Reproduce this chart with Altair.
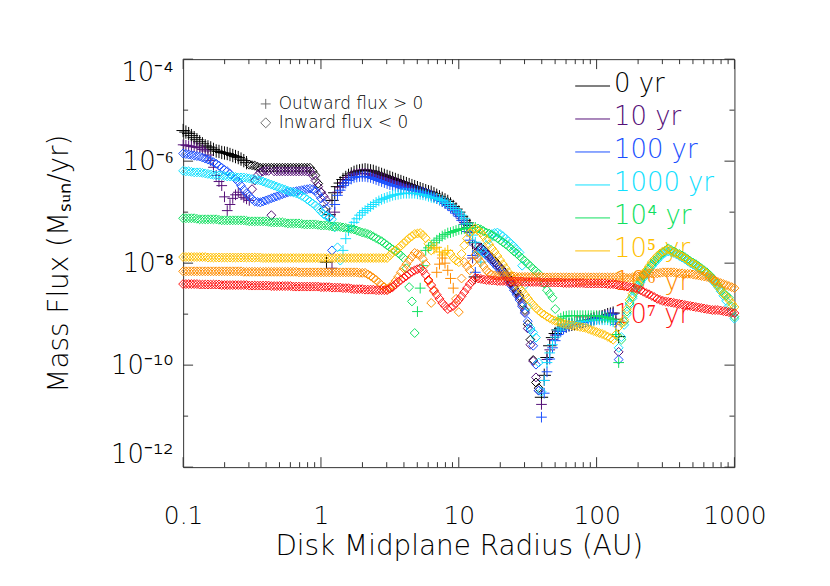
import altair as alt
import pandas as pd

# ---------------- data ----------------
# log10 of disk midplane radius (AU) on the model grid
LOG_R = [-1.00, -0.98, -0.96, -0.94, -0.92, -0.90, -0.88, -0.86, -0.84, -0.82,
         -0.80, -0.78, -0.76, -0.74, -0.72, -0.70, -0.68, -0.66, -0.64, -0.62,
         -0.60, -0.58, -0.56, -0.54, -0.52, -0.50, -0.48, -0.46, -0.44, -0.42,
         -0.40, -0.38, -0.36, -0.34, -0.32, -0.30, -0.28, -0.26, -0.24, -0.22,
         -0.20, -0.18, -0.16, -0.14, -0.12, -0.10, -0.08, -0.06, -0.04, -0.02,
         0.00, 0.02, 0.04, 0.06, 0.08, 0.10, 0.12, 0.14, 0.16, 0.18,
         0.20, 0.22, 0.24, 0.26, 0.28, 0.30, 0.32, 0.34, 0.36, 0.38,
         0.40, 0.42, 0.44, 0.46, 0.48, 0.50, 0.52, 0.54, 0.56, 0.58,
         0.60, 0.62, 0.64, 0.66, 0.68, 0.70, 0.72, 0.74, 0.76, 0.78,
         0.80, 0.82, 0.84, 0.86, 0.88, 0.90, 0.92, 0.94, 0.96, 0.98,
         1.00, 1.02, 1.04, 1.06, 1.08, 1.10, 1.12, 1.14, 1.16, 1.18,
         1.20, 1.22, 1.24, 1.26, 1.28, 1.30, 1.32, 1.34, 1.36, 1.38,
         1.40, 1.42, 1.44, 1.46, 1.48, 1.50, 1.52, 1.54, 1.56, 1.58,
         1.60, 1.62, 1.64, 1.66, 1.68, 1.70, 1.72, 1.74, 1.76, 1.78,
         1.80, 1.82, 1.84, 1.86, 1.88, 1.90, 1.92, 1.94, 1.96, 1.98,
         2.00, 2.02, 2.04, 2.06, 2.08, 2.10, 2.12, 2.14, 2.16, 2.18,
         2.20, 2.22, 2.24, 2.26, 2.28, 2.30, 2.32, 2.34, 2.36, 2.38,
         2.40, 2.42, 2.44, 2.46, 2.48, 2.50, 2.52, 2.54, 2.56, 2.58,
         2.60, 2.62, 2.64, 2.66, 2.68, 2.70, 2.72, 2.74, 2.76, 2.78,
         2.80, 2.82, 2.84, 2.86, 2.88, 2.90, 2.92, 2.94, 2.96, 2.98,
         3.00]

LABELS = ["0 yr", "10 yr", "100 yr", "1000 yr", "10\u2074 yr", "10\u2075 yr", "10\u2076 yr", "10\u2077 yr"]

# log10 |mass flux| (Msun/yr) per snapshot; sign strings: '+' outward (>0), '-' inward (<0)
LOGF_0YR = [
    -5.40, -5.43, -5.46, -5.50, -5.54, -5.58, -5.62, -5.66, -5.70, -5.72,
    -5.74, -5.77, -5.80, -5.81, -5.83, -5.84, -5.85, -5.87, -5.89, -5.91,
    -5.93, -5.96, -5.99, -6.03, -6.07, -6.08, -6.09, -6.11, -6.13, -6.13,
    -6.13, -6.13, -6.13, -6.13, -6.13, -6.13, -6.13, -6.13, -6.13, -6.13,
    -6.13, -6.13, -6.13, -6.13, -6.13, -6.13, -6.13, -6.20, -6.28, -6.44,
    -6.61, -6.95, -7.98, -7.05, -6.77, -6.62, -6.50, -6.43, -6.36, -6.32,
    -6.28, -6.25, -6.22, -6.20, -6.19, -6.18, -6.17, -6.18, -6.19, -6.20,
    -6.22, -6.24, -6.26, -6.28, -6.30, -6.32, -6.34, -6.36, -6.38, -6.40,
    -6.42, -6.44, -6.46, -6.48, -6.50, -6.52, -6.54, -6.56, -6.58, -6.60,
    -6.61, -6.64, -6.67, -6.70, -6.73, -6.76, -6.79, -6.84, -6.89, -6.94,
    -7.00, -7.08, -7.16, -7.21, -7.26, -7.60, -8.27, -7.75, -7.69, -7.74,
    -7.79, -7.84, -7.90, -7.96, -8.02, -8.08, -8.14, -8.21, -8.29, -8.38,
    -8.47, -8.55, -8.64, -8.78, -8.92, -9.20, -9.50, -9.90, -10.34, -10.45,
    -10.63, -10.20, -9.85, -9.62, -9.46, -9.38, -9.31, -9.28, -9.25, -9.23,
    -9.21, -9.20, -9.19, -9.17, -9.15, -9.14, -9.13, -9.12, -9.11, -9.09,
    -9.07, -9.06, -9.05, -9.03, -9.01, -9.00, -8.98, -9.10, -9.44]
SIGN_0YR = ("++++++++++ ++++++++++ ++++------ ---------- ---------- --++++++++ "
            "++++++++++ ++++++++++ ++++++++++ ++++++++++ +++++++--- ---------- "
            "---------- ++++++++++ ++++++++++ +++++++++")

LOGF_10YR = [
    -5.68, -5.69, -5.70, -5.71, -5.72, -5.73, -5.74, -5.77, -5.80, -5.88,
    -5.99, -6.12, -6.28, -6.40, -6.48, -6.70, -6.97, -6.85, -6.73, -6.66,
    -6.61, -6.66, -6.71, -6.74, -6.77, -6.55, -6.38, -6.28, -6.22, -6.20,
    -6.19, -6.19, -7.06, -6.20, -6.20, -6.20, -6.20, -6.20, -6.20, -6.20,
    -6.20, -6.20, -6.20, -6.20, -6.20, -6.20, -6.20, -6.28, -6.38, -6.50,
    -6.61, -6.69, -6.77, -7.10, -8.10, -7.00, -6.61, -6.51, -6.42, -6.37,
    -6.32, -6.29, -6.26, -6.25, -6.24, -6.24, -6.24, -6.25, -6.26, -6.28,
    -6.30, -6.31, -6.32, -6.34, -6.36, -6.38, -6.40, -6.42, -6.44, -6.46,
    -6.48, -6.50, -6.52, -6.54, -6.56, -6.58, -6.60, -6.61, -6.63, -6.65,
    -6.67, -6.70, -6.73, -6.76, -6.79, -6.82, -6.85, -6.89, -6.93, -6.98,
    -7.04, -7.12, -7.20, -7.30, -7.40, -7.90, -7.65, -7.68, -7.71, -7.75,
    -7.80, -7.86, -7.92, -7.98, -8.04, -8.10, -8.16, -8.23, -8.31, -8.40,
    -8.49, -8.58, -8.68, -8.82, -8.96, -9.28, -9.60, -9.92, -10.24, -10.50,
    -10.77, -10.30, -9.89, -9.70, -9.50, -9.41, -9.33, -9.29, -9.25, -9.23,
    -9.21, -9.20, -9.19, -9.17, -9.15, -9.14, -9.13, -9.12, -9.11, -9.09,
    -9.07, -9.06, -9.05, -9.03, -9.01, -9.00, -8.98, -9.15, -9.74]
SIGN_10YR = ("++++++++++ ++++++++++ +++++----- ---------- ---------- ----++++++ "
             "++++++++++ ++++++++++ ++++++++++ ++++++++++ ++++++---- ---------- "
             "---------- ++++++++++ ++++++++++ ++++++++-")

LOGF_100YR = [
    -5.85, -5.86, -5.87, -5.88, -5.89, -5.90, -5.91, -5.93, -5.95, -5.97,
    -5.99, -6.02, -6.05, -6.09, -6.13, -6.17, -6.20, -6.25, -6.30, -6.35,
    -6.40, -6.48, -6.56, -6.63, -6.69, -6.74, -6.79, -6.80, -6.81, -6.79,
    -6.77, -6.75, -6.73, -6.71, -6.69, -6.67, -6.65, -6.63, -6.61, -6.60,
    -6.60, -6.59, -6.58, -6.57, -6.56, -6.55, -6.54, -6.55, -6.58, -6.65,
    -6.73, -6.83, -6.93, -7.10, -7.75, -6.85, -6.67, -6.57, -6.48, -6.43,
    -6.38, -6.35, -6.32, -6.31, -6.30, -6.30, -6.30, -6.31, -6.32, -6.34,
    -6.36, -6.38, -6.40, -6.42, -6.44, -6.46, -6.48, -6.49, -6.50, -6.52,
    -6.54, -6.55, -6.56, -6.57, -6.58, -6.59, -6.60, -6.61, -6.63, -6.65,
    -6.67, -6.70, -6.73, -6.76, -6.79, -6.83, -6.87, -6.92, -6.97, -7.02,
    -7.08, -7.16, -7.24, -7.38, -7.55, -7.85, -8.18, -7.80, -7.75, -7.79,
    -7.84, -7.90, -7.96, -8.02, -8.08, -8.14, -8.20, -8.27, -8.35, -8.44,
    -8.53, -8.62, -8.72, -8.85, -8.98, -9.14, -9.31, -9.62, -9.99, -10.50,
    -11.02, -10.55, -10.13, -9.88, -9.66, -9.52, -9.40, -9.34, -9.29, -9.26,
    -9.23, -9.21, -9.19, -9.18, -9.17, -9.16, -9.15, -9.13, -9.11, -9.10,
    -9.09, -9.07, -9.05, -9.04, -9.03, -9.01, -9.00, -9.20, -9.89]
SIGN_100YR = ("---------- ---------- ---------- ---------- ---------- -----+++++ "
              "++++++++++ ++++++++++ ++++++++++ ++++++++++ +++++++--- ---------- "
              "---------- ++++++++++ ++++++++++ ++++++++-")

LOGF_1000YR = [
    -6.19, -6.20, -6.20, -6.21, -6.22, -6.22, -6.22, -6.23, -6.24, -6.25,
    -6.26, -6.27, -6.28, -6.28, -6.28, -6.29, -6.30, -6.30, -6.30, -6.31,
    -6.32, -6.32, -6.32, -6.33, -6.34, -6.35, -6.36, -6.37, -6.38, -6.40,
    -6.42, -6.44, -6.46, -6.48, -6.50, -6.52, -6.54, -6.56, -6.58, -6.60,
    -6.61, -6.63, -6.65, -6.68, -6.71, -6.75, -6.79, -6.83, -6.87, -6.93,
    -6.99, -7.04, -7.08, -7.11, -7.14, -7.30, -7.69, -7.95, -7.75, -7.52,
    -7.36, -7.28, -7.20, -7.13, -7.06, -7.01, -6.97, -6.93, -6.89, -6.85,
    -6.81, -6.78, -6.75, -6.73, -6.71, -6.69, -6.67, -6.66, -6.65, -6.64,
    -6.63, -6.63, -6.63, -6.63, -6.63, -6.64, -6.65, -6.66, -6.67, -6.69,
    -6.71, -6.72, -6.73, -6.75, -6.77, -6.80, -6.83, -6.87, -6.91, -6.95,
    -7.00, -7.06, -7.12, -7.22, -7.32, -7.45, -7.59, -7.78, -7.98, -7.80,
    -7.65, -7.53, -7.43, -7.41, -7.40, -7.43, -7.47, -7.52, -7.57, -7.62,
    -7.67, -7.73, -7.79, -8.05, -8.43, -8.85, -9.27, -9.36, -9.46, -9.95,
    -10.52, -10.30, -9.95, -9.76, -9.60, -9.45, -9.31, -9.27, -9.23, -9.21,
    -9.19, -9.18, -9.17, -9.16, -9.15, -9.14, -9.13, -9.13, -9.13, -9.12,
    -9.11, -9.11, -9.11, -9.11, -9.11, -9.13, -9.15, -9.40, -9.66, -9.45,
    -9.21, -9.00, -8.82, -8.69, -8.57, -8.47, -8.37, -8.29, -8.21, -8.13,
    -8.06, -8.00, -7.94, -7.88, -7.82, -7.79, -7.77, -7.78, -7.80, -7.83,
    -7.86, -7.89, -7.92, -7.96, -8.00, -8.03, -8.06, -8.10, -8.14, -8.17,
    -8.21, -8.27, -8.33, -8.40, -8.47, -8.55, -8.64, -8.74, -8.84, -8.96,
    -9.09]
SIGN_1000YR = ("---------- ---------- ---------- ---------- ---------- --------++ "
               "++++++++++ ++++++++++ ++++++++++ ++++++++++ +++++++++- ---------- "
               "---------- -+++++++++ ++++++++++ ++++++++-- ---------- ---------- "
               "---------- ---------- -")

LOGF_1E4YR = [
    -7.12, -7.12, -7.12, -7.12, -7.12, -7.13, -7.14, -7.14, -7.14, -7.14,
    -7.14, -7.14, -7.14, -7.15, -7.16, -7.16, -7.16, -7.16, -7.16, -7.16,
    -7.16, -7.16, -7.16, -7.17, -7.18, -7.18, -7.18, -7.18, -7.18, -7.18,
    -7.18, -7.19, -7.20, -7.20, -7.20, -7.20, -7.20, -7.21, -7.22, -7.22,
    -7.22, -7.22, -7.22, -7.23, -7.24, -7.24, -7.24, -7.24, -7.24, -7.25,
    -7.26, -7.26, -7.26, -7.27, -7.28, -7.28, -7.28, -7.29, -7.30, -7.31,
    -7.32, -7.33, -7.34, -7.36, -7.38, -7.40, -7.41, -7.43, -7.45, -7.48,
    -7.51, -7.54, -7.57, -7.61, -7.65, -7.69, -7.73, -7.76, -7.80, -7.85,
    -7.90, -8.10, -8.47, -8.75, -9.37, -8.95, -8.49, -8.05, -7.75, -7.70,
    -7.65, -7.60, -7.55, -7.51, -7.47, -7.44, -7.41, -7.40, -7.38, -7.36,
    -7.34, -7.33, -7.32, -7.31, -7.30, -7.30, -7.30, -7.32, -7.34, -7.37,
    -7.40, -7.42, -7.45, -7.48, -7.51, -7.55, -7.59, -7.63, -7.67, -7.72,
    -7.77, -7.81, -7.86, -7.91, -7.96, -8.01, -8.06, -8.11, -8.16, -8.21,
    -8.27, -8.40, -8.53, -8.60, -8.68, -8.90, -9.11, -9.08, -9.05, -9.04,
    -9.03, -9.03, -9.03, -9.03, -9.03, -9.03, -9.03, -9.03, -9.03, -9.03,
    -9.03, -9.04, -9.05, -9.06, -9.07, -9.09, -9.11, -9.40, -9.95, -9.50,
    -9.15, -8.95, -8.78, -8.65, -8.53, -8.43, -8.33, -8.25, -8.18, -8.10,
    -8.02, -7.96, -7.90, -7.84, -7.79, -7.75, -7.71, -7.74, -7.77, -7.80,
    -7.82, -7.85, -7.88, -7.92, -7.96, -7.99, -8.02, -8.06, -8.10, -8.14,
    -8.18, -8.23, -8.29, -8.36, -8.43, -8.51, -8.59, -8.63, -8.68, -8.85,
    -9.05]
SIGN_1E4YR = ("---------- ---------- ---------- ---------- ---------- ---------- "
              "---------- ---------- -----+++++ ++++++++++ +++++++--- ---------- "
              "---------- ------++++ ++++++++++ +++++++++- ---------- ---------- "
              "---------- ---------- -")

LOGF_1E5YR = [
    -7.88, -7.88, -7.88, -7.88, -7.88, -7.88, -7.88, -7.88, -7.88, -7.89,
    -7.89, -7.89, -7.89, -7.89, -7.89, -7.89, -7.89, -7.89, -7.89, -7.89,
    -7.89, -7.89, -7.89, -7.89, -7.89, -7.89, -7.89, -7.89, -7.89, -7.90,
    -7.90, -7.90, -7.90, -7.90, -7.90, -7.90, -7.90, -7.90, -7.90, -7.90,
    -7.90, -7.90, -7.90, -7.90, -7.90, -7.90, -7.90, -7.90, -7.90, -7.90,
    -7.90, -7.90, -7.90, -7.90, -7.90, -7.90, -7.90, -7.90, -7.90, -7.90,
    -7.90, -7.90, -7.90, -7.90, -7.90, -7.90, -7.90, -7.90, -7.90, -7.90,
    -7.90, -7.90, -7.90, -7.90, -7.90, -7.85, -7.79, -7.75, -7.71, -7.66,
    -7.61, -7.56, -7.51, -7.47, -7.43, -7.42, -7.41, -7.45, -7.51, -7.62,
    -7.75, -7.72, -7.69, -7.78, -7.84, -7.80, -7.75, -7.82, -7.90, -7.95,
    -7.98, -7.82, -7.65, -7.52, -7.41, -7.36, -7.32, -7.36, -7.40, -7.47,
    -7.55, -7.63, -7.71, -7.78, -7.86, -7.94, -8.02, -8.10, -8.18, -8.25,
    -8.33, -8.41, -8.49, -8.55, -8.62, -8.69, -8.76, -8.82, -8.88, -8.93,
    -8.98, -9.01, -9.05, -9.08, -9.11, -9.13, -9.15, -9.17, -9.19, -9.20,
    -9.21, -9.22, -9.23, -9.24, -9.25, -9.26, -9.27, -9.29, -9.31, -9.33,
    -9.35, -9.37, -9.39, -9.41, -9.44, -9.47, -9.50, -9.40, -9.25, -9.18,
    -9.11, -8.90, -8.72, -8.60, -8.49, -8.39, -8.29, -8.21, -8.14, -8.06,
    -7.98, -7.92, -7.86, -7.81, -7.77, -7.75, -7.73, -7.76, -7.79, -7.81,
    -7.84, -7.87, -7.90, -7.94, -7.98, -8.01, -8.04, -8.08, -8.12, -8.16,
    -8.20, -8.25, -8.31, -8.38, -8.45, -8.52, -8.60, -8.66, -8.72, -8.79,
    -8.86]
SIGN_1E5YR = ("---------- ---------- ---------- ---------- ---------- ---------- "
              "---------- ---------- ---------- -++++++--- ---------- ---------- "
              "---------- ---------- ---------- ---------- ---------- ---------- "
              "---------- ---------- -")

LOGF_1E6YR = [
    -8.16, -8.16, -8.16, -8.16, -8.16, -8.16, -8.16, -8.16, -8.16, -8.16,
    -8.16, -8.16, -8.16, -8.16, -8.16, -8.16, -8.16, -8.16, -8.16, -8.16,
    -8.16, -8.16, -8.17, -8.17, -8.17, -8.17, -8.17, -8.17, -8.17, -8.17,
    -8.17, -8.17, -8.17, -8.17, -8.17, -8.17, -8.17, -8.17, -8.17, -8.17,
    -8.17, -8.17, -8.18, -8.18, -8.18, -8.18, -8.18, -8.18, -8.18, -8.18,
    -8.18, -8.18, -8.18, -8.18, -8.18, -8.18, -8.18, -8.18, -8.18, -8.18,
    -8.18, -8.18, -8.18, -8.18, -8.19, -8.19, -8.19, -8.22, -8.25, -8.29,
    -8.33, -8.38, -8.43, -8.47, -8.51, -8.47, -8.43, -8.35, -8.27, -8.18,
    -8.10, -8.02, -7.94, -7.87, -7.80, -7.82, -7.84, -7.92, -8.02, -8.35,
    -8.78, -8.55, -8.18, -8.02, -7.90, -8.00, -8.14, -8.30, -8.49, -8.70,
    -8.96, -8.30, -7.98, -8.06, -8.14, -7.98, -7.84, -7.90, -7.98, -8.06,
    -8.14, -8.19, -8.23, -8.24, -8.25, -8.25, -8.25, -8.26, -8.26, -8.26,
    -8.26, -8.27, -8.27, -8.27, -8.27, -8.27, -8.27, -8.27, -8.27, -8.27,
    -8.27, -8.28, -8.28, -8.28, -8.28, -8.28, -8.28, -8.28, -8.28, -8.28,
    -8.28, -8.28, -8.28, -8.28, -8.28, -8.28, -8.28, -8.28, -8.28, -8.28,
    -8.28, -8.28, -8.28, -8.28, -8.28, -8.28, -8.28, -8.28, -8.28, -8.28,
    -8.28, -8.29, -8.29, -8.28, -8.27, -8.26, -8.25, -8.23, -8.21, -8.20,
    -8.20, -8.20, -8.20, -8.19, -8.18, -8.18, -8.18, -8.18, -8.18, -8.19,
    -8.20, -8.20, -8.21, -8.21, -8.21, -8.22, -8.23, -8.24, -8.25, -8.26,
    -8.27, -8.29, -8.31, -8.34, -8.37, -8.39, -8.41, -8.43, -8.45, -8.47,
    -8.49]
SIGN_1E6YR = ("---------- ---------- ---------- ---------- ---------- ---------- "
              "---------- ---------- ---------- --+++++++- ---------- ---------- "
              "---------- ---------- ---------- ---------- ---------- ---------- "
              "---------- ---------- -")

LOGF_1E7YR = [
    -8.41, -8.41, -8.41, -8.41, -8.41, -8.41, -8.42, -8.42, -8.42, -8.42,
    -8.42, -8.42, -8.42, -8.42, -8.43, -8.43, -8.43, -8.43, -8.43, -8.43,
    -8.43, -8.43, -8.43, -8.43, -8.44, -8.44, -8.44, -8.44, -8.44, -8.44,
    -8.44, -8.44, -8.45, -8.45, -8.45, -8.45, -8.45, -8.45, -8.45, -8.45,
    -8.46, -8.46, -8.46, -8.46, -8.46, -8.46, -8.46, -8.46, -8.46, -8.46,
    -8.47, -8.47, -8.47, -8.47, -8.48, -8.48, -8.48, -8.48, -8.49, -8.49,
    -8.49, -8.50, -8.51, -8.51, -8.51, -8.51, -8.52, -8.52, -8.52, -8.52,
    -8.53, -8.53, -8.53, -8.53, -8.53, -8.50, -8.47, -8.42, -8.37, -8.33,
    -8.29, -8.25, -8.21, -8.17, -8.14, -8.12, -8.10, -8.15, -8.23, -8.33,
    -8.43, -8.53, -8.62, -8.70, -8.78, -8.84, -8.90, -8.87, -8.84, -8.78,
    -8.72, -8.65, -8.57, -8.49, -8.41, -8.35, -8.29, -8.30, -8.31, -8.32,
    -8.33, -8.33, -8.34, -8.34, -8.35, -8.35, -8.35, -8.35, -8.36, -8.36,
    -8.36, -8.36, -8.36, -8.36, -8.37, -8.37, -8.37, -8.37, -8.37, -8.37,
    -8.38, -8.38, -8.38, -8.38, -8.38, -8.38, -8.38, -8.38, -8.39, -8.39,
    -8.39, -8.39, -8.39, -8.39, -8.39, -8.39, -8.40, -8.40, -8.40, -8.40,
    -8.40, -8.40, -8.40, -8.40, -8.41, -8.41, -8.41, -8.42, -8.43, -8.44,
    -8.45, -8.46, -8.47, -8.48, -8.49, -8.51, -8.53, -8.56, -8.59, -8.61,
    -8.64, -8.67, -8.70, -8.72, -8.74, -8.75, -8.76, -8.77, -8.78, -8.79,
    -8.80, -8.81, -8.82, -8.83, -8.84, -8.85, -8.86, -8.87, -8.88, -8.89,
    -8.90, -8.91, -8.92, -8.92, -8.92, -8.93, -8.94, -8.95, -8.96, -8.97,
    -8.98]
SIGN_1E7YR = "-" * len(LOGF_1E7YR)  # every 10^7 yr point is an inward-flux diamond

X_LABELLED = [0.1, 1, 10, 100, 1000]
Y_LABELLED = [1e-12, 1e-10, 1e-8, 1e-6, 1e-4]
Y_UNLABELLED = [1e-11, 1e-9, 1e-7, 1e-5]
FLUX_KEY = ["Outward flux > 0", "Inward flux < 0"]

# ---------------- styling ----------------
COLORS = ["#000000", "#551078", "#1a50ff", "#10e0ff", "#10e060", "#ffc000", "#ff8c00", "#ff1010"]
FONT = "DejaVu Sans"
WEIGHT = 200
AX = "#333333"
PLUS = "M-1,0L1,0M0,-1L0,1"
W, H = 554, 410

series_vals = [LOGF_0YR, LOGF_10YR, LOGF_100YR, LOGF_1000YR,
               LOGF_1E4YR, LOGF_1E5YR, LOGF_1E6YR, LOGF_1E7YR]
series_sign = [SIGN_0YR, SIGN_10YR, SIGN_100YR, SIGN_1000YR,
               SIGN_1E4YR, SIGN_1E5YR, SIGN_1E6YR, SIGN_1E7YR]

rows = []
seq = 0
for k, (lab, vals, sg) in enumerate(zip(LABELS, series_vals, series_sign)):
    sg = sg.replace(" ", "")
    assert len(sg) == len(vals), (lab, len(sg), len(vals))
    assert len(vals) <= len(LOG_R), lab
    for lr, lf, s in zip(LOG_R, vals, sg):
        d = "out" if s == "+" else "in"
        if d == "out":
            msize = 180 if k == 0 else 115
        else:
            msize = 80
        rows.append({"r": 10 ** lr, "flux": 10 ** lf, "series": lab, "dir": d,
                     "msize": msize, "seq": seq})
        seq += 1
df = pd.DataFrame(rows)

XS = alt.Scale(type="log", domain=[0.1, 1000], nice=False)
YS = alt.Scale(type="log", domain=[1e-12, 1e-4], nice=False)
XAXIS = alt.Axis(values=X_LABELLED, format="~g", labelPadding=37, labelFlush=False,
                 labelFontSize=25, title="Disk Midplane Radius (AU)", titlePadding=4)
color = alt.Color("series:N", scale=alt.Scale(domain=LABELS, range=COLORS), legend=None)
shape = alt.Shape("dir:N", scale=alt.Scale(domain=["out", "in"], range=[PLUS, "diamond"]), legend=None)

ylab = ("datum.value > 3e-5 ? '10\u207b\u2074' : datum.value > 3e-7 ? '10\u207b\u2076' : "
        "datum.value > 3e-9 ? '10\u207b\u2078' : datum.value > 3e-11 ? '10\u207b\u00b9\u2070' : '10\u207b\u00b9\u00b2'")

points = alt.Chart(df).mark_point(filled=False, strokeWidth=1, opacity=1).encode(
    x=alt.X("r:Q", scale=XS, axis=XAXIS),
    y=alt.Y("flux:Q", scale=YS, axis=alt.Axis(values=Y_LABELLED, labelExpr=ylab, labelPadding=10,
                                               labelFlush=True, labelFontSize=26,
                                               title="Mass Flux (M\u209b\u1d64\u2099/yr)",
                                               titlePadding=37)),
    color=color, shape=shape,
    size=alt.Size("msize:Q", scale=None, legend=None),
    order=alt.Order("seq:Q"),
)

leg = pd.DataFrame({"series": LABELS, "row": list(range(len(LABELS)))})
rowy = alt.Y("row:Q", scale=alt.Scale(domain=[0, 7], range=[27, 259]), axis=None)
leg_rules = alt.Chart(leg).mark_rule(strokeWidth=1).encode(
    x=alt.value(394), x2=alt.value(429), y=rowy, color=color)
leg_text = alt.Chart(leg).mark_text(align="left", baseline="middle", font=FONT, fontSize=26,
                                    fontWeight=WEIGHT, dy=-2).encode(
    x=alt.value(433), y=rowy, text="series:N", color=color)

fk = pd.DataFrame({"label": FLUX_KEY, "dir": ["out", "in"], "row": [0, 1]})
fky = alt.Y("row:Q", scale=alt.Scale(domain=[0, 1], range=[45, 64]), axis=None)
fk_sym = alt.Chart(fk).mark_point(filled=False, strokeWidth=1, color="#333333", size=100).encode(
    x=alt.value(83), y=fky, shape=shape)
fk_text = alt.Chart(fk).mark_text(align="left", baseline="middle", font=FONT, fontSize=17,
                                  fontWeight=WEIGHT, color="black").encode(
    x=alt.value(96), y=fky, text="label:N")


def xt(vals, y0, y1):
    return alt.Chart(pd.DataFrame({"r": vals})).mark_rule(color=AX, strokeWidth=1).encode(
        x=alt.X("r:Q", scale=XS, axis=XAXIS), y=alt.value(y0), y2=alt.value(y1))


def yt(vals, x0, x1):
    return alt.Chart(pd.DataFrame({"flux": vals})).mark_rule(color=AX, strokeWidth=1).encode(
        y=alt.Y("flux:Q", scale=YS, axis=None), x=alt.value(x0), x2=alt.value(x1))


x_minor = [m * d for d in [0.1, 1, 10, 100] for m in range(2, 10)]
ticks = [
    xt(X_LABELLED, H, H - 10), xt(x_minor, H, H - 5),
    xt(X_LABELLED, 0, 10), xt(x_minor, 0, 5),
    yt(Y_LABELLED, 0, 10), yt(Y_UNLABELLED, 0, 5),
    yt(Y_LABELLED, W, W - 10), yt(Y_UNLABELLED, W, W - 5),
]

chart = alt.layer(leg_rules, leg_text, fk_sym, fk_text, *ticks, points).resolve_scale(
    y="independent"
).properties(
    width=W, height=H,
    autosize=alt.AutoSizeParams(type="none"),
    padding={"left": 176, "top": 50, "right": 88, "bottom": 108},
    background="white",
).configure_view(stroke=AX, strokeWidth=1).configure_axis(
    grid=False, ticks=False, domain=False,
    labelFont=FONT, titleFont=FONT, labelColor="black", titleColor="black",
    titleFontSize=28, titleFontWeight=WEIGHT, labelFontWeight=WEIGHT,
)

chart.save("out.html", embed_options={"renderer": "svg", "actions": False})
